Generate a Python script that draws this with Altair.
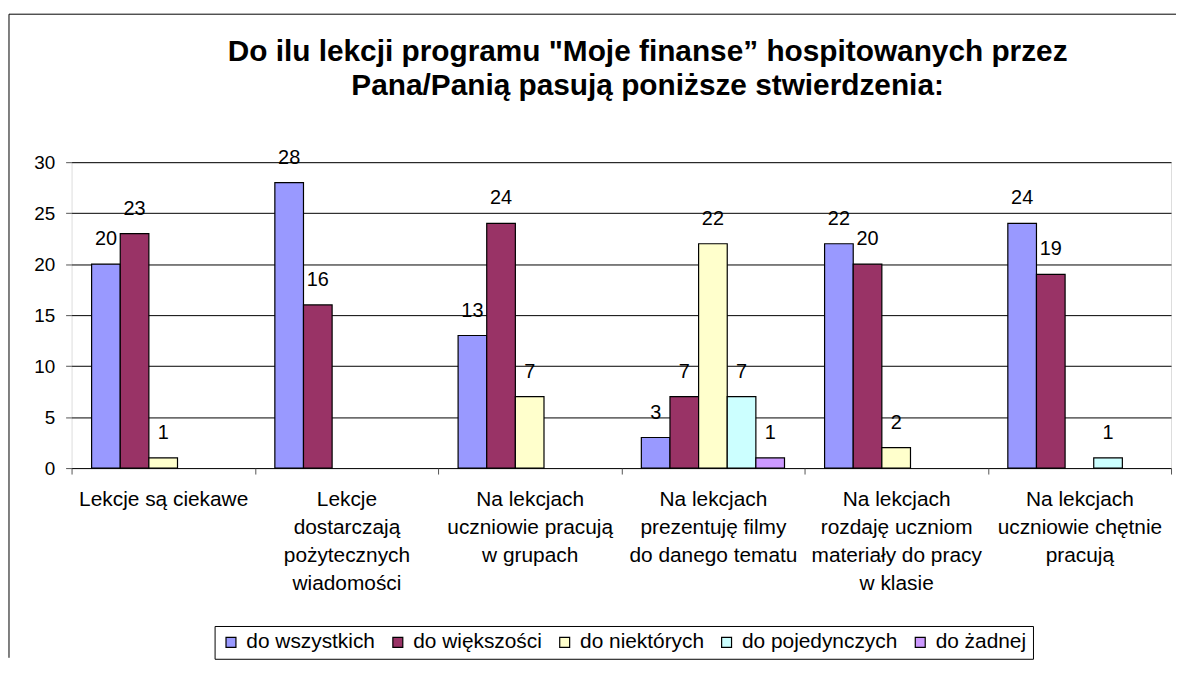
import altair as alt
import pandas as pd

categories = [
    "Lekcje są ciekawe",
    "Lekcje|dostarczają|pożytecznych|wiadomości",
    "Na lekcjach|uczniowie pracują|w grupach",
    "Na lekcjach|prezentuję filmy|do danego tematu",
    "Na lekcjach|rozdaję uczniom|materiały do pracy|w klasie",
    "Na lekcjach|uczniowie chętnie|pracują",
]
series = ["do wszystkich", "do większości", "do niektórych", "do pojedynczych", "do żadnej"]
colors = ["#9999FF", "#993366", "#FFFFCC", "#CCFFFF", "#CC99FF"]

do_wszystkich = [20, 28, 13, 3, 22, 24]
do_wiekszosci = [23, 16, 24, 7, 20, 19]
do_niektorych = [1, 0, 7, 22, 2, 0]
do_pojedynczych = [0, 0, 0, 7, 0, 1]
do_zadnej = [0, 0, 0, 1, 0, 0]

y_ticks = [0, 5, 10, 15, 20, 25, 30]

title_text = (
    "Do ilu lekcji programu \"Moje finanse\u201d hospitowanych przez\n"
    "Pana/Panią pasują poniższe stwierdzenia:"
)

FONT = "Liberation Sans, Arial, sans-serif"

all_values = [do_wszystkich, do_wiekszosci, do_niektorych, do_pojedynczych, do_zadnej]
rows = []
for s, vals in zip(series, all_values):
    for c, v in zip(categories, vals):
        rows.append({"kategoria": c, "seria": s, "wartosc": v})
df = pd.DataFrame(rows)

x_enc = alt.X(
    "kategoria:N",
    sort=categories,
    scale=alt.Scale(domain=categories, paddingInner=0, paddingOuter=0),
    axis=alt.Axis(
        title=None,
        labelAngle=0,
        labelExpr="split(datum.label, '|')",
        labelFontSize=21,
        labelFont=FONT,
        labelColor="black",
        labelLineHeight=28,
        labelLimit=400,
        labelPadding=15,
        tickBand="extent",
        tickSize=6,
        tickColor="#555555",
        domain=False,
        grid=False,
    ),
)
xoff_enc = alt.XOffset(
    "seria:N",
    sort=series,
    scale=alt.Scale(domain=series, paddingInner=0, paddingOuter=0.7),
)
y_enc = alt.Y(
    "wartosc:Q",
    scale=alt.Scale(domain=[0, 30], nice=False),
    axis=alt.Axis(
        title=None,
        values=y_ticks,
        labelFontSize=19,
        labelFont=FONT,
        labelColor="black",
        tickSize=6,
        tickColor="#555555",
        labelPadding=11,
        domain=False,
        grid=True,
        gridColor="black",
        gridWidth=1,
        gridOpacity=1,
    ),
)

base = alt.Chart(df).transform_filter("datum.wartosc > 0")

bars = base.mark_bar(stroke="black", strokeWidth=1.2, opacity=1).encode(
    x=x_enc,
    xOffset=xoff_enc,
    y=y_enc,
    color=alt.Color(
        "seria:N",
        sort=series,
        scale=alt.Scale(domain=series, range=colors),
        legend=alt.Legend(
            title=None,
            orient="none",
            legendX=144,
            legendY=467,
            direction="horizontal",
            columns=5,
            symbolType="square",
            symbolSize=100,
            symbolStrokeColor="black",
            symbolStrokeWidth=1.2,
            symbolOpacity=1,
            labelFontSize=21,
            labelFont=FONT,
            labelColor="black",
            labelOffset=5,
            columnPadding=12,
            padding=6,
            strokeColor="black",
            fillColor="white",
            gridAlign="none",
        ),
    ),
)

labels = base.mark_text(
    fontSize=20, font=FONT, color="black", baseline="alphabetic", dy=-19
).encode(
    x=alt.X("kategoria:N", sort=categories),
    xOffset=alt.XOffset("seria:N", sort=series),
    y=alt.Y("wartosc:Q"),
    text=alt.Text("wartosc:Q"),
)

one_row = pd.DataFrame({"k": [0]})
frame_v = alt.Chart(one_row).mark_rule(color="black", strokeWidth=1).encode(
    x=alt.value(-63), y=alt.value(-149), y2=alt.value(499)
)
frame_h = alt.Chart(one_row).mark_rule(color="black", strokeWidth=1).encode(
    x=alt.value(-63), x2=alt.value(1112), y=alt.value(-149)
)
title = alt.Chart(one_row).mark_text(
    font=FONT,
    fontSize=30,
    fontWeight="bold",
    color="black",
    align="center",
    baseline="alphabetic",
    lineBreak="\n",
    lineHeight=34,
).encode(
    x=alt.value(580),
    y=alt.value(-102),
    text=alt.value(title_text),
)

chart = alt.layer(bars, labels, frame_v, frame_h, title).properties(
    width=1107,
    height=308,
    padding={"left": 64, "top": 153, "right": 5, "bottom": 191},
    autosize=alt.AutoSizeParams(type="none"),
).configure_view(
    fill="#C0C0C0", stroke="#808080", strokeWidth=1
).configure(background="white")

chart.save("out.html", embed_options={"renderer": "svg", "actions": False})
